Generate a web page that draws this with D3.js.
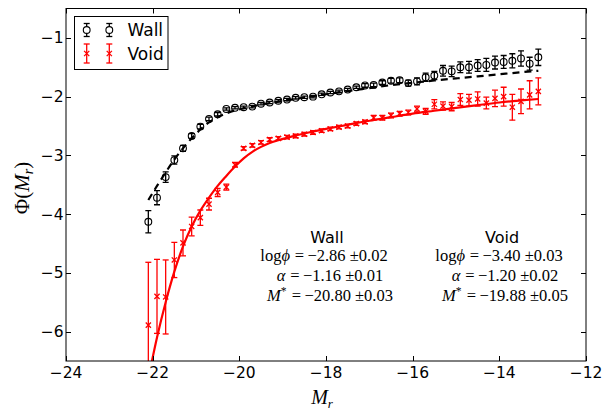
<!DOCTYPE html>
<html>
<head>
<meta charset="utf-8">
<script src="https://cdn.jsdelivr.net/npm/d3@7/dist/d3.min.js"></script>
<style>
  html, body { margin: 0; padding: 0; background: #fff; }
  svg { display: block; }
</style>
</head>
<body>
<svg id="chart" width="613" height="412"></svg>
<script>
// Absolute magnitude bins (0.2 mag wide)
const magBins = [-22.1, -21.9, -21.7, -21.5, -21.3, -21.1, -20.9, -20.7, -20.5, -20.3,
                 -20.1, -19.9, -19.7, -19.5, -19.3, -19.1, -18.9, -18.7, -18.5, -18.3,
                 -18.1, -17.9, -17.7, -17.5, -17.3, -17.1, -16.9, -16.7, -16.5, -16.3,
                 -16.1, -15.9, -15.7, -15.5, -15.3, -15.1, -14.9, -14.7, -14.5, -14.3,
                 -14.1, -13.9, -13.7, -13.5, -13.3, -13.1];

// Wall galaxies: log luminosity function and 1-sigma errors
const wallPhi = [-4.13, -3.72, -3.37, -3.08, -2.88, -2.67, -2.51, -2.38, -2.30, -2.21,
                 -2.19, -2.18, -2.17, -2.12, -2.10, -2.07, -2.05, -2.02, -2.01, -2.00,
                 -1.96, -1.93, -1.91, -1.88, -1.84, -1.81, -1.80, -1.76, -1.73, -1.72,
                 -1.77, -1.74, -1.67, -1.64, -1.56, -1.57, -1.50, -1.50, -1.47, -1.46,
                 -1.42, -1.41, -1.39, -1.35, -1.44, -1.33];
const wallErr = [0.19, 0.12, 0.09, 0.07, 0.05, 0.04, 0.04, 0.03, 0.03, 0.02,
                 0.02, 0.02, 0.02, 0.02, 0.02, 0.02, 0.02, 0.02, 0.02, 0.02,
                 0.02, 0.02, 0.02, 0.02, 0.02, 0.03, 0.03, 0.03, 0.04, 0.04,
                 0.05, 0.06, 0.07, 0.07, 0.09, 0.09, 0.09, 0.10, 0.10, 0.11,
                 0.11, 0.11, 0.12, 0.13, 0.11, 0.14];

// Void galaxies: log luminosity function and 1-sigma errors
const voidPhi = [-5.89, -5.40, -5.41, -4.78, -4.49, -4.21, -4.06, -3.83, -3.63, -3.54,
                 -3.16, -2.88, -2.83, -2.78, -2.73, -2.71, -2.69, -2.67, -2.64, -2.61,
                 -2.58, -2.55, -2.52, -2.50, -2.46, -2.43, -2.36, -2.36, -2.32, -2.29,
                 -2.27, -2.21, -2.25, -2.13, -2.16, -2.17, -2.05, -2.06, -2.04, -2.11,
                 -2.03, -2.00, -2.18, -2.08, -1.97, -1.91];
const voidErr = [1.07, 0.63, 0.63, 0.30, 0.22, 0.16, 0.13, 0.10, 0.07, 0.05,
                 0.04, 0.03, 0.03, 0.03, 0.03, 0.03, 0.03, 0.03, 0.03, 0.03,
                 0.03, 0.03, 0.03, 0.03, 0.03, 0.03, 0.04, 0.04, 0.04, 0.04,
                 0.04, 0.05, 0.05, 0.08, 0.07, 0.07, 0.10, 0.10, 0.12, 0.10,
                 0.14, 0.16, 0.22, 0.21, 0.24, 0.23];

// Schechter fits, sampled along the magnitude range
const fitMag = [-22.1, -21.9, -21.7, -21.5, -21.3, -21.1, -20.9, -20.7, -20.5, -20.3,
                -20.1, -19.9, -19.7, -19.5, -19.3, -19.1, -18.8, -18.4, -18.0, -17.5,
                -17.0, -16.5, -16.0, -15.5, -15.0, -14.5, -14.0, -13.5, -13.1];
const wallFit = [-3.76, -3.52, -3.29, -3.07, -2.88, -2.71, -2.56, -2.44, -2.35, -2.285,
                 -2.235, -2.20, -2.165, -2.135, -2.11, -2.085, -2.05, -2.005, -1.96, -1.905,
                 -1.855, -1.805, -1.765, -1.725, -1.69, -1.655, -1.62, -1.585, -1.56];
const voidFit = [-6.80, -6.10, -5.50, -4.98, -4.55, -4.21, -3.94, -3.72, -3.52, -3.35,
                 -3.19, -3.05, -2.94, -2.855, -2.79, -2.74, -2.68, -2.61, -2.55, -2.48,
                 -2.41, -2.35, -2.29, -2.24, -2.19, -2.145, -2.10, -2.065, -2.04];

// Axis ticks
const xTicks = [-24, -22, -20, -18, -16, -14, -12];
const yTicks = [-6, -5, -4, -3, -2, -1];

// Fit parameters shown in the annotation
const wallParams = { logphi: "−2.86", logphiErr: "0.02", alpha: "−1.16", alphaErr: "0.01", mstar: "−20.80", mstarErr: "0.03" };
const voidParams = { logphi: "−3.40", logphiErr: "0.03", alpha: "−1.20", alphaErr: "0.02", mstar: "−19.88", mstarErr: "0.05" };

const svg = d3.select("#chart");
const L = 66, R = 586, T = 8.5, B = 361;

const x = d3.scaleLinear().domain([-24, -12]).range([L, R]);
const y = d3.scaleLinear().domain([-6.5, -0.5]).range([B, T]);

const RED = "#ff0000";
const sans = "'DejaVu Sans', sans-serif";
const serif = "'Liberation Serif', 'DejaVu Serif', serif";

svg.append("defs").append("clipPath").attr("id", "plotclip")
  .append("rect").attr("x", L).attr("y", T).attr("width", R - L).attr("height", B - T);

const plot = svg.append("g").attr("clip-path", "url(#plotclip)");

const wallData = magBins.map((m, i) => ({ m, v: wallPhi[i], e: wallErr[i] }));
const voidData = magBins.map((m, i) => ({ m, v: voidPhi[i], e: voidErr[i] }));

// Fit curves
const line = d3.line().x(d => x(d[0])).y(d => y(d[1])).curve(d3.curveMonotoneX);
plot.append("path")
  .attr("d", line(fitMag.map((m, i) => [m, voidFit[i]])))
  .attr("fill", "none").attr("stroke", RED).attr("stroke-width", 2.2);
plot.append("path")
  .attr("d", line(fitMag.map((m, i) => [m, wallFit[i]])))
  .attr("fill", "none").attr("stroke", "#000").attr("stroke-width", 2.2)
  .attr("stroke-dasharray", "7,5");

// Error bars with caps
function errorBars(g, data, color) {
  const cap = 3;
  const eb = g.append("g").attr("stroke", color).attr("stroke-width", 1.3).attr("fill", "none");
  data.forEach(d => {
    const xp = x(d.m), y0 = y(d.v - d.e), y1 = y(d.v + d.e);
    eb.append("line").attr("x1", xp).attr("x2", xp).attr("y1", y0).attr("y2", y1);
    eb.append("line").attr("x1", xp - cap).attr("x2", xp + cap).attr("y1", y0).attr("y2", y0);
    eb.append("line").attr("x1", xp - cap).attr("x2", xp + cap).attr("y1", y1).attr("y2", y1);
  });
}
errorBars(plot, voidData, RED);
errorBars(plot, wallData, "#000");

// Markers
function crossPath(cx, cy, s) {
  return `M${cx - s},${cy - s}L${cx + s},${cy + s}M${cx - s},${cy + s}L${cx + s},${cy - s}`;
}
plot.append("g").selectAll("path").data(voidData).join("path")
  .attr("d", d => crossPath(x(d.m), y(d.v), 2.6))
  .attr("stroke", RED).attr("stroke-width", 1.3).attr("fill", "none");
plot.append("g").selectAll("circle").data(wallData).join("circle")
  .attr("cx", d => x(d.m)).attr("cy", d => y(d.v)).attr("r", 3.4)
  .attr("fill", "none").attr("stroke", "#000").attr("stroke-width", 1.1);

// Frame and inward ticks on all sides
const axes = svg.append("g").attr("stroke", "#000").attr("stroke-width", 1).attr("fill", "none");
axes.append("rect").attr("x", L).attr("y", T).attr("width", R - L).attr("height", B - T);
const tl = 5;
xTicks.forEach(t => {
  const xp = Math.round(x(t)) + 0.5;
  axes.append("line").attr("x1", xp).attr("x2", xp).attr("y1", B).attr("y2", B - tl);
  axes.append("line").attr("x1", xp).attr("x2", xp).attr("y1", T).attr("y2", T + tl);
});
yTicks.forEach(t => {
  const yp = Math.round(y(t)) + 0.5;
  axes.append("line").attr("x1", L).attr("x2", L + tl).attr("y1", yp).attr("y2", yp);
  axes.append("line").attr("x1", R).attr("x2", R - tl).attr("y1", yp).attr("y2", yp);
});

const fmt = v => (v < 0 ? "\u2212" : "") + Math.abs(v);
svg.append("g").selectAll("text").data(xTicks).join("text")
  .attr("x", d => x(d)).attr("y", 377.5).attr("text-anchor", "middle")
  .attr("font-family", sans).attr("font-size", 15.5).text(fmt);
svg.append("g").selectAll("text").data(yTicks).join("text")
  .attr("x", 63.5).attr("y", d => y(d) + 5.5).attr("text-anchor", "end")
  .attr("font-family", sans).attr("font-size", 15.5).text(fmt);

// Axis labels
const xl = svg.append("text").attr("x", 322).attr("y", 404).attr("text-anchor", "middle")
  .attr("font-family", serif).attr("font-size", 20);
xl.append("tspan").attr("font-style", "italic").text("M");
xl.append("tspan").attr("font-style", "italic").attr("font-size", 13).attr("dy", 3.5).text("r");

const yl = svg.append("text").attr("transform", "translate(29,188) rotate(-90)")
  .attr("text-anchor", "middle").attr("font-family", serif).attr("font-size", 21);
yl.append("tspan").text("Φ(");
yl.append("tspan").attr("font-style", "italic").text("M");
yl.append("tspan").attr("font-style", "italic").attr("font-size", 14).attr("dy", 4).text("r");
yl.append("tspan").attr("dy", -4).text(")");

// Legend
const lg = svg.append("g");
lg.append("rect").attr("x", 74.5).attr("y", 16.5).attr("width", 93.5).attr("height", 53)
  .attr("fill", "#fff").attr("stroke", "#000").attr("stroke-width", 1);
const legendItems = [
  { label: "Wall", color: "#000", cy: 30, half: 6.5, mark: "circle" },
  { label: "Void", color: RED, cy: 53.5, half: 9.5, mark: "cross" }
];
legendItems.forEach(it => {
  [86.7, 109.3].forEach(cx => {
    const g = lg.append("g").attr("stroke", it.color).attr("fill", "none").attr("stroke-width", 1.3);
    g.append("line").attr("x1", cx).attr("x2", cx).attr("y1", it.cy - it.half).attr("y2", it.cy + it.half);
    g.append("line").attr("x1", cx - 3).attr("x2", cx + 3).attr("y1", it.cy - it.half).attr("y2", it.cy - it.half);
    g.append("line").attr("x1", cx - 3).attr("x2", cx + 3).attr("y1", it.cy + it.half).attr("y2", it.cy + it.half);
    if (it.mark === "circle") {
      g.append("circle").attr("cx", cx).attr("cy", it.cy).attr("r", 3.4).attr("fill", "#fff").attr("stroke-width", 1.1);
    } else {
      g.append("path").attr("d", crossPath(cx, it.cy, 2.6));
    }
  });
  lg.append("text").attr("x", 127.5).attr("y", it.cy + 6.3)
    .attr("font-family", sans).attr("font-size", 17).text(it.label);
});

// Fit parameter annotation
function paramBlock(cx, title, p) {
  svg.append("text").attr("x", cx).attr("y", 243).attr("text-anchor", "middle")
    .attr("font-family", sans).attr("font-size", 16).text(title);
  const rows = [
    { y: 261, dx: -3, parts: [["log", false], ["\u03D5", true], ["\u2009=\u2009" + p.logphi + " \u00B1" + p.logphiErr, false]] },
    { y: 280.5, dx: 3, parts: [["\u03B1", true], ["\u2009=\u2009" + p.alpha + " \u00B1" + p.alphaErr, false]] },
    { y: 300.5, dx: 3, parts: [["M", true], ["*", false, true], ["\u2009=\u2009" + p.mstar + " \u00B1" + p.mstarErr, false]] }
  ];
  rows.forEach(r => {
    const t = svg.append("text").attr("x", cx + r.dx).attr("y", r.y).attr("text-anchor", "middle")
      .attr("font-family", serif).attr("font-size", 16.5);
    const hasSup = r.parts.some(q => q[2]);
    r.parts.forEach(([s, it, sup], k) => {
      const ts = t.append("tspan").text(s);
      if (it) ts.attr("font-style", "italic");
      if (sup) { ts.attr("font-size", 11.5).attr("dy", -5.5); }
      else if (hasSup && s.startsWith("\u2009")) { ts.attr("dy", 5.5).attr("dx", 2); }
      else if (k > 0 && r.parts[k - 1][1] && s.startsWith("\u2009")) { ts.attr("dx", 1.5); }
    });
  });
}
paramBlock(327, "Wall", wallParams);
paramBlock(502, "Void", voidParams);
</script>
</body>
</html>
